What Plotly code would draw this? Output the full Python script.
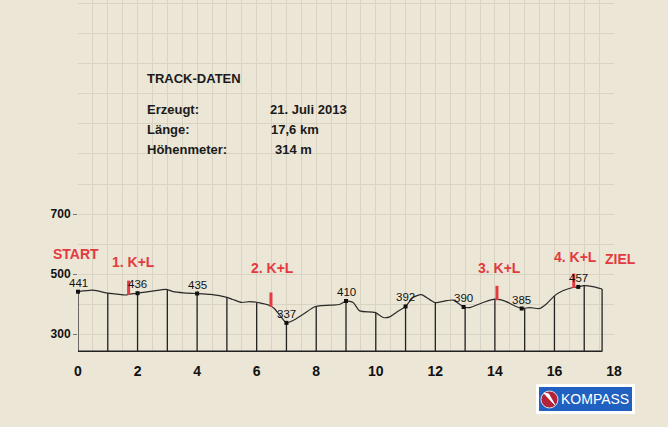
import numpy as np
import plotly.graph_objects as go

# Elevation profile of the track (distance in km, elevation in m)
km = [0.0, 0.5, 1.0, 1.3, 1.6, 1.75, 2.0, 2.5, 2.97, 3.2, 3.55, 4.0, 4.45,
      5.0, 5.2, 5.5, 5.77, 6.1, 6.44, 6.6, 6.78, 7.0, 7.2, 7.56, 7.95, 8.1,
      8.5, 8.8, 9.0, 9.24, 9.46, 9.97, 10.25, 10.47, 10.69, 11.0, 11.25,
      11.53, 11.98, 12.37, 12.6, 12.95, 13.15, 13.6, 14.0, 14.38, 14.66,
      14.9, 15.17, 15.5, 15.73, 16.0, 16.28, 16.62, 16.8, 16.98, 17.29, 17.6]
elev = [441, 446, 436, 433, 430, 433, 436, 443, 449, 441, 437, 435, 432,
        422, 415, 405, 408, 404, 395, 384, 362, 337, 344, 366, 391, 394,
        396, 399, 410, 405, 377, 372, 355, 357, 372, 392, 422,
        431, 405, 411, 413, 390, 388, 405, 416, 408, 394,
        385, 388, 385, 400, 427, 444, 455, 457, 461, 458, 450]

# Labelled points along the profile
label_km = [0, 2, 4, 7, 9, 11, 12.95, 14.9, 16.8]
label_elev = [441, 436, 435, 337, 410, 392, 390, 385, 457]

# Refreshment stops
stop_km = [1.7, 6.48, 14.07, 16.65]
stop_names = ["1. K+L", "2. K+L", "3. K+L", "4. K+L"]

x_ticks = [0, 2, 4, 6, 8, 10, 12, 14, 16, 18]
y_ticks = [300, 500, 700]

info_title = "TRACK-DATEN"
info_keys = ["Erzeugt:", "Länge:", "Höhenmeter:"]
info_vals = ["21. Juli 2013", "17,6 km", "314 m"]

# ---- styling ----
FONT = "Arial, Liberation Sans, sans-serif"
BG = "#ebe6d6"
GRID = "#d8d3c3"
INK = "#1a1a1a"
RED = "#e33a3f"
Y_LO, Y_HI = 240, 1413.3
BASE = 242  # elevation of the drawn base line

km_arr = np.array(km)
elev_arr = np.array(elev)
end_km = km[-1]

fig = go.Figure()

# vertical drop lines at each full kilometre and at the finish
drop_x = list(range(0, int(end_km) + 1)) + [end_km]
dx, dy = [], []
for d in drop_x:
    e = float(np.interp(d, km_arr, elev_arr))
    dx += [d, d, None]
    dy += [BASE, e, None]
fig.add_trace(go.Scatter(x=dx, y=dy, mode="lines",
                         line=dict(color="#222", width=1.3),
                         hoverinfo="skip", showlegend=False))

# base line
fig.add_trace(go.Scatter(x=[0, end_km], y=[BASE, BASE], mode="lines",
                         line=dict(color="#222", width=1.6),
                         hoverinfo="skip", showlegend=False))

# profile
fig.add_trace(go.Scatter(x=km, y=elev, mode="lines",
                         line=dict(color="#2a2a2a", width=1.2, shape="spline",
                                   smoothing=0.6),
                         showlegend=False))

# labelled points
fig.add_trace(go.Scatter(x=label_km, y=label_elev, mode="markers",
                         marker=dict(symbol="square", size=4, color="#111"),
                         cliponaxis=False, showlegend=False))

# stop markers (red bars)
sx, sy = [], []
for s in stop_km:
    e = float(np.interp(s, km_arr, elev_arr))
    sx += [s, s, None]
    sy += [e - 2, e + 46, None]
fig.add_trace(go.Scatter(x=sx, y=sy, mode="lines",
                         line=dict(color=RED, width=3),
                         hoverinfo="skip", showlegend=False))

annotations = []

# elevation labels sitting just above their points
for lk, le in zip(label_km, label_elev):
    annotations.append(dict(x=lk, y=le, xref="x", yref="y", text=str(le),
                            showarrow=False, xanchor="center",
                            yanchor="bottom", yshift=1,
                            font=dict(family=FONT, size=11.5, color="#111")))

RED_FONT = dict(family=FONT, size=14, color=RED, weight="bold")
stop_label_pos = [(1.87, 540), (6.54, 521), (14.17, 519), (16.72, 556)]
for name, (ax_, ay_) in zip(stop_names, stop_label_pos):
    annotations.append(dict(x=ax_, y=ay_, xref="x", yref="y", text=name,
                            showarrow=False, xanchor="center",
                            yanchor="middle", font=RED_FONT))
annotations.append(dict(x=-0.0041, y=0.2776, xref="paper", yref="paper",
                        text="START", showarrow=False, xanchor="center",
                        yanchor="middle", font=RED_FONT))
annotations.append(dict(x=1.0127, y=0.2634, xref="paper", yref="paper",
                        text="ZIEL", showarrow=False, xanchor="center",
                        yanchor="middle", font=RED_FONT))

# track info block
annotations.append(dict(x=0.125, y=0.7776, xref="paper", yref="paper",
                        text="<b>%s</b>" % info_title, showarrow=False,
                        xanchor="left", yanchor="middle",
                        font=dict(family=FONT, size=13, color=INK)))
row_y = [0.6895, 0.6307, 0.5753]
val_x = [0.355, 0.3563, 0.3644]
for k, v, ry, vx in zip(info_keys, info_vals, row_y, val_x):
    annotations.append(dict(x=0.125, y=ry, xref="paper", yref="paper",
                            text="<b>%s</b>" % k, showarrow=False,
                            xanchor="left", yanchor="middle",
                            font=dict(family=FONT, size=13, color=INK)))
    annotations.append(dict(x=vx, y=ry, xref="paper", yref="paper",
                            text="<b>%s</b>" % v, showarrow=False,
                            xanchor="left", yanchor="middle",
                            font=dict(family=FONT, size=13, color=INK)))

# publisher badge
annotations.append(dict(x=0.9646, y=-0.1335, xref="paper", yref="paper",
                        text="KOMPASS", showarrow=False,
                        xanchor="center", yanchor="middle",
                        font=dict(family=FONT, size=14, color="white")))

shapes = [
    dict(type="rect", xref="paper", yref="paper", x0=0.8545, x1=1.0392,
         y0=-0.1761, y1=-0.0909, fillcolor="white", line=dict(width=0),
         layer="above"),
    dict(type="rect", xref="paper", yref="paper", x0=0.8601, x1=1.0336,
         y0=-0.1676, y1=-0.0994, fillcolor="#2060c0", line=dict(width=0),
         layer="above"),
    dict(type="circle", xref="paper", yref="paper", x0=0.8638, x1=0.8955,
         y0=-0.1591, y1=-0.1108, fillcolor="#b3243a",
         line=dict(color="#e0e0e0", width=1), layer="above"),
    dict(type="path", xref="paper", yref="paper",
         path="M 0.8690,-0.1165 L 0.8895,-0.1500 L 0.8780,-0.1190 Z",
         fillcolor="white", line=dict(color="white", width=1), layer="above"),
]

fig.update_layout(
    width=668, height=427,
    margin=dict(l=78, r=54, t=0, b=75),
    paper_bgcolor=BG, plot_bgcolor=BG,
    showlegend=False,
    annotations=annotations,
    shapes=shapes,
    xaxis=dict(
        range=[0, 18], tickmode="array", tickvals=x_ticks,
        ticktext=[str(t) for t in x_ticks],
        showgrid=True, gridcolor=GRID, gridwidth=1,
        zeroline=False, showline=False,
        ticks="outside", ticklen=6, tickcolor="rgba(0,0,0,0)",
        tickfont=dict(family=FONT, size=14, color="#111", weight="bold"),
        minor=dict(tickmode="linear", tick0=0, dtick=0.5, showgrid=True,
                   gridcolor=GRID, gridwidth=1, ticks=""),
        fixedrange=True,
    ),
    yaxis=dict(
        range=[Y_LO, Y_HI], tickmode="array", tickvals=y_ticks,
        ticktext=[str(t) for t in y_ticks],
        showgrid=True, gridcolor=GRID, gridwidth=1,
        zeroline=False, showline=False,
        ticks="outside", ticklen=4, tickcolor="#777",
        tickfont=dict(family=FONT, size=12, color="#111", weight="bold"),
        minor=dict(tickmode="linear", tick0=0, dtick=100, showgrid=True,
                   gridcolor=GRID, gridwidth=1, ticks=""),
        fixedrange=True,
    ),
)

fig.write_html("out.html")
